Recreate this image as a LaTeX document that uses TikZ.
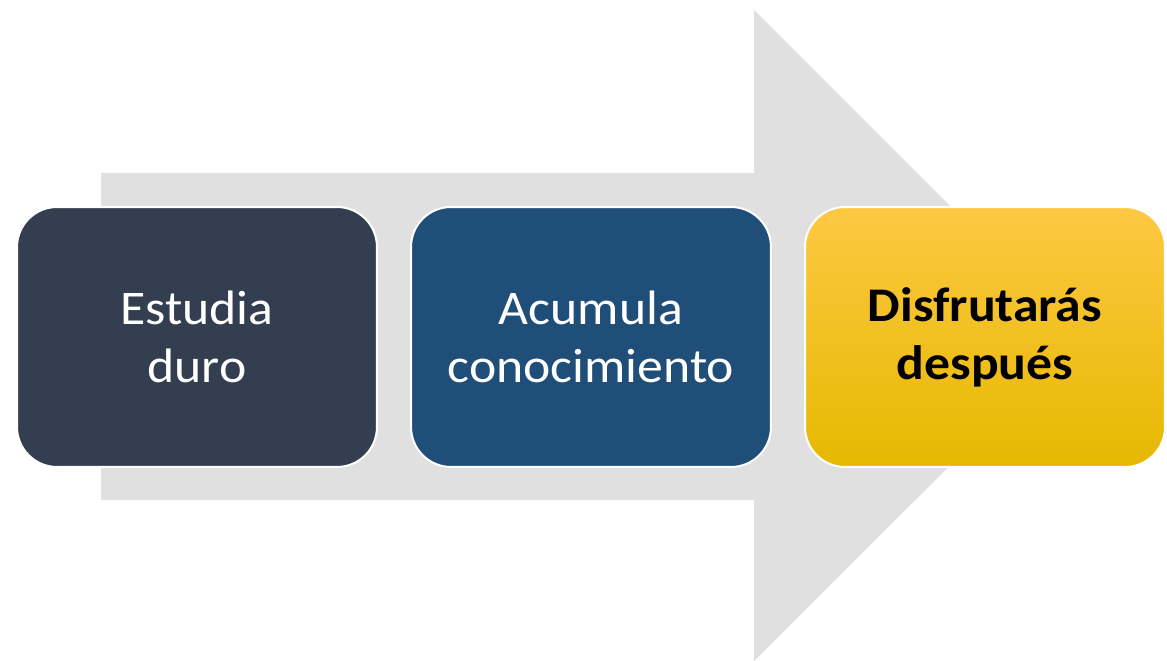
\documentclass[tikz,border=0pt]{standalone}
\usepackage{fontspec}
\setmainfont{Carlito}[FakeStretch=1.07]
\usetikzlibrary{positioning}

\definecolor{arrowGray}{HTML}{E0E0E0}
\definecolor{slateBox}{HTML}{333F50}
\definecolor{blueBox}{HTML}{1F4E79}
\definecolor{goldTop}{HTML}{FEC843}
\definecolor{goldMid}{HTML}{FFC000}
\definecolor{goldBot}{HTML}{E6B800}

\begin{document}
\begin{tikzpicture}
[x=0.02cm,y=-0.02cm,%
  stepBox/.style={shape=rectangle,rounded corners=0.8cm,draw=white,line width=0.04cm,
    minimum width=7.2cm,minimum height=5.2cm,align=center,
    font=\fontsize{27.5}{33}\selectfont}]
\useasboundingbox (0,0) rectangle (1167,661);
%% big arrow behind the steps
\fill[arrowGray] (101,173) -- (754,173) -- (754,10) -- (1080,336)
  -- (754,661) -- (754,500) -- (101,500) -- cycle;
%% steps
\node (estudia) at (197,337) [stepBox,fill=slateBox,text=white] {Estudia\\duro};
\node (acumula) at (591,337) [stepBox,fill=blueBox,text=white] {Acumula\\conocimiento};
\node (disfruta) at (985,337) [stepBox,top color=goldTop,middle color=goldMid,
  bottom color=goldBot,text=black,font=\fontsize{27.5}{33}\selectfont\bfseries]
  {Disfrutarás\\después};
\end{tikzpicture}
\end{document}
